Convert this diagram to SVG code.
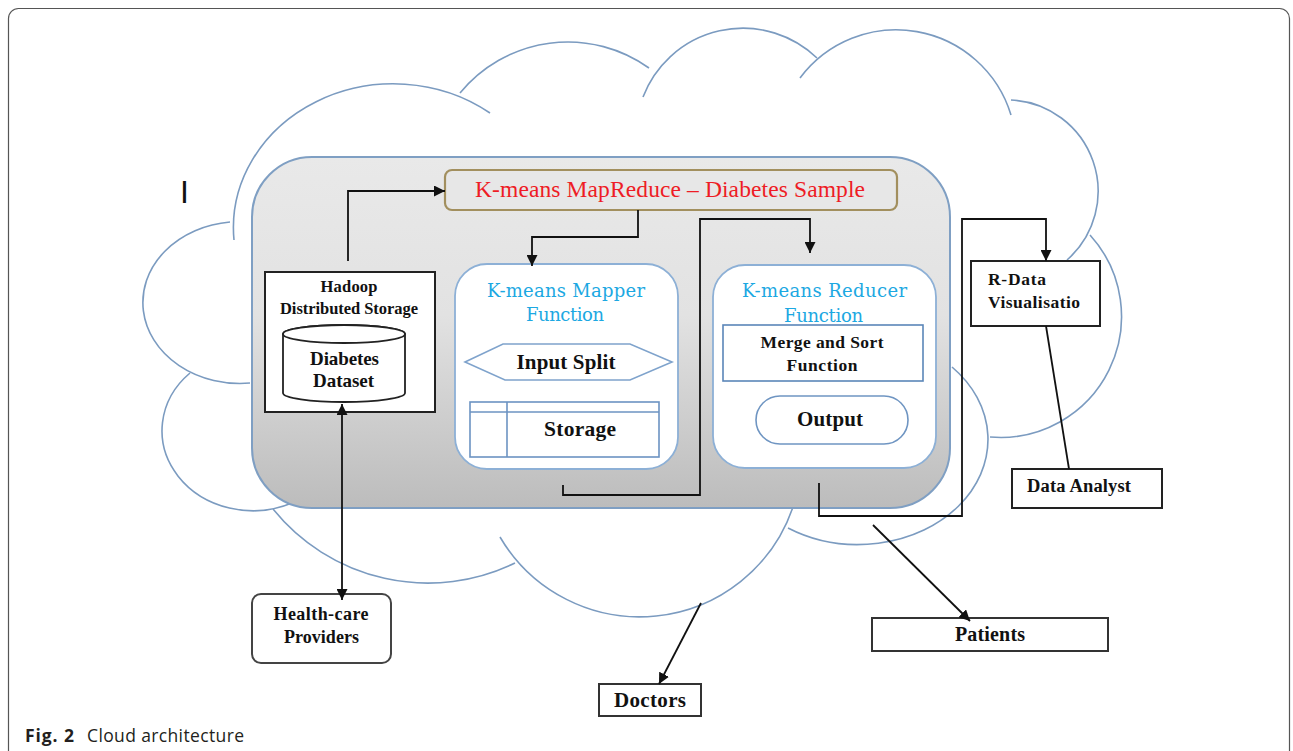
<svg xmlns="http://www.w3.org/2000/svg" width="1293" height="751" viewBox="0 0 1293 751">
<defs>
<linearGradient id="panelGrad" x1="0" y1="0" x2="0" y2="1">
<stop offset="0" stop-color="#e9e9e9"/>
<stop offset="0.45" stop-color="#e2e2e2"/>
<stop offset="1" stop-color="#bcbcbc"/>
</linearGradient>
<marker id="arr" markerWidth="11" markerHeight="11" refX="11" refY="5.5" orient="auto-start-reverse" markerUnits="userSpaceOnUse">
<path d="M0,0 L11,5.5 L0,11 Z" fill="#111"/>
</marker>
<style>
.cloud{fill:none;stroke:#7b9bc0;stroke-width:1.6}
.conn{fill:none;stroke:#111;stroke-width:1.8}
.box{fill:#fff;stroke:#222;stroke-width:2}
.inner{fill:#fff;stroke:#7fa3cc;stroke-width:1.6}
.lbl{font-family:"Liberation Serif","Times New Roman",serif;font-weight:bold;fill:#111}
.blue{font-family:"DejaVu Serif","Liberation Serif",serif;fill:#1ca8e2;font-size:18px}
.mid{text-anchor:middle}
</style>
</defs>
<rect x="8.5" y="8.5" width="1281" height="800" rx="10" fill="#fff" stroke="#555" stroke-width="1.2"/>
<g id="cloud">
<path class="cloud" d="M234,240 A160,144 0 0 1 490,113"/>
<path class="cloud" d="M460,93 A139.5,139.5 0 0 1 649,68"/>
<path class="cloud" d="M643,97 A107,107 0 0 1 817,58"/>
<path class="cloud" d="M800,78 A120,120 0 0 1 1011,115"/>
<path class="cloud" d="M1011,100 A91.4,91.4 0 0 1 1067,260"/>
<path class="cloud" d="M1090,235 A121,121 0 0 1 990,437"/>
<path class="cloud" d="M952,367 A130,105 0 0 1 788,528"/>
<path class="cloud" d="M793,507 A162,162 0 0 1 500,537"/>
<path class="cloud" d="M515,563 A199,199 0 0 1 273,509"/>
<path class="cloud" d="M190,373 A91,80 0 0 0 292,503"/>
<path class="cloud" d="M250,383 A96,80 0 1 1 230,222"/>
</g>
<g id="panel">
<rect x="252" y="157" width="698" height="351" rx="60" fill="url(#panelGrad)" stroke="#7f9fc3" stroke-width="2"/>
</g>
<g id="stray">
<text x="180" y="203" font-family="Liberation Sans, Arial, sans-serif" font-size="32" fill="#111">I</text>
</g>
<g id="title">
<rect x="445" y="170" width="452" height="40" rx="7" fill="#e7e7e7" stroke="#a28f5e" stroke-width="2.2"/>
<text x="670" y="197" class="mid" font-family="Liberation Serif, Times New Roman, serif" font-size="23.5" fill="#ee1c25" textLength="390">K-means MapReduce – Diabetes Sample</text>
</g>
<g id="hadoop">
<rect class="box" x="265" y="272" width="170" height="140"/>
<text class="lbl mid" x="349" y="292" font-size="16.5" textLength="57">Hadoop</text>
<text class="lbl mid" x="349" y="314" font-size="16.5" textLength="138">Distributed Storage</text>
</g>
<g id="dataset">
<path d="M283,334 A61,9 0 0 1 405,334 V393 A61,9 0 0 1 283,393 Z" fill="#fff" stroke="#222" stroke-width="1.8"/>
<ellipse cx="344" cy="334" rx="61" ry="9" fill="#fff" stroke="#222" stroke-width="1.8"/>
<text class="lbl mid" x="344.5" y="365" font-size="19" textLength="69">Diabetes</text>
<text class="lbl mid" x="343.5" y="387" font-size="19" textLength="61">Dataset</text>
</g>
<g id="mapper">
<rect x="455" y="264" width="223" height="205" rx="32" fill="#fff" stroke="#8db0d6" stroke-width="1.8"/>
<text class="blue mid" x="566" y="297" textLength="158">K-means Mapper</text>
<text class="blue mid" x="565" y="321" textLength="78">Function</text>
</g>
<g id="input-split">
<polygon class="inner" points="465,362 503,344 630,344 672,362 630,380 505,380"/>
<text class="lbl mid" x="566" y="369" font-size="21" textLength="99">Input Split</text>
</g>
<g id="storage">
<rect x="470" y="402" width="189" height="55" fill="#fff" stroke="#6c93c2" stroke-width="1.6"/>
<line x1="507" y1="402" x2="507" y2="457" stroke="#6c93c2" stroke-width="1.6"/>
<line x1="470" y1="412" x2="659" y2="412" stroke="#6c93c2" stroke-width="1.6"/>
<text class="lbl mid" x="580" y="436" font-size="21.5" textLength="72">Storage</text>
</g>
<g id="reducer">
<rect x="713" y="265" width="223" height="203" rx="32" fill="#fff" stroke="#8db0d6" stroke-width="1.8"/>
<text class="blue mid" x="824.5" y="297" textLength="165">K-means Reducer</text>
<text class="blue mid" x="823.5" y="322" textLength="79">Function</text>
</g>
<g id="merge-sort">
<rect x="723" y="325" width="200" height="56" fill="#fff" stroke="#5b86b8" stroke-width="1.6"/>
<text class="lbl mid" x="822" y="348" font-size="17.5" textLength="123">Merge and Sort</text>
<text class="lbl mid" x="822" y="371" font-size="17.5" textLength="71">Function</text>
</g>
<g id="output">
<rect x="756" y="396" width="152" height="48" rx="24" fill="#fff" stroke="#6f95c2" stroke-width="1.6"/>
<text class="lbl mid" x="830" y="426" font-size="21" textLength="66">Output</text>
</g>
<g id="r-data">
<rect class="box" x="971" y="261" width="129" height="65"/>
<text class="lbl" x="988" y="285" font-size="17.5" textLength="58">R-Data</text>
<text class="lbl" x="988" y="308" font-size="17.5" textLength="92">Visualisatio</text>
</g>
<g id="data-analyst">
<rect class="box" x="1012" y="469" width="150" height="39"/>
<text class="lbl" x="1027" y="492" font-size="18.5" textLength="104">Data Analyst</text>
</g>
<g id="patients">
<rect x="872" y="618" width="236" height="33" fill="#fff" stroke="#333" stroke-width="2"/>
<text class="lbl mid" x="990" y="641" font-size="20" textLength="70">Patients</text>
</g>
<g id="doctors">
<rect x="599" y="684" width="102" height="32" fill="#fff" stroke="#333" stroke-width="2"/>
<text class="lbl mid" x="650" y="707" font-size="21" textLength="72">Doctors</text>
</g>
<g id="health-care">
<rect x="252" y="594" width="139" height="69" rx="9" fill="#fff" stroke="#444" stroke-width="2"/>
<text class="lbl mid" x="321" y="620" font-size="18" textLength="95">Health-care</text>
<text class="lbl mid" x="321.5" y="643" font-size="18" textLength="75">Providers</text>
</g>
<g id="connectors">
<path class="conn" d="M348,261 V191 H445" marker-end="url(#arr)"/>
<path class="conn" d="M638,210 V237 H532 V266" marker-end="url(#arr)"/>
<path class="conn" d="M563,485 V495 H700 V219 H810 V253" marker-end="url(#arr)"/>
<path class="conn" d="M819,483 V516 H962 V219 H1046 V261" marker-end="url(#arr)"/>
<path class="conn" d="M1046,326 L1069,469"/>
<path class="conn" d="M873,525 L970,621" marker-end="url(#arr)"/>
<path class="conn" d="M701,603 L659,684" marker-end="url(#arr)"/>
<path class="conn" d="M342,404 V600" marker-start="url(#arr)" marker-end="url(#arr)"/>
</g>
<g id="caption">
<text x="25" y="742" font-family="Open Sans, Liberation Sans, sans-serif" font-weight="bold" font-size="17.5" fill="#231f20" textLength="49">Fig. 2</text>
<text x="87" y="742" font-family="Open Sans, Liberation Sans, sans-serif" font-size="17.5" fill="#231f20" textLength="157">Cloud architecture</text>
</g>
</svg>
